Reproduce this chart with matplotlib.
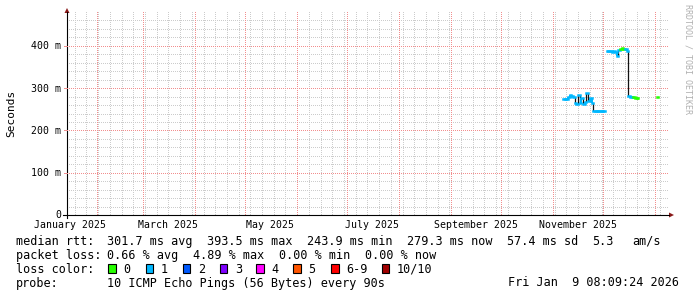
import matplotlib
matplotlib.use("Agg")
import matplotlib.pyplot as plt
import matplotlib.dates as mdates
from matplotlib.patches import Rectangle, Polygon
from matplotlib.transforms import Affine2D
import numpy as np
import pandas as pd

# ---------------- data ----------------
dates = [
    "2025-11-07", "2025-11-08", "2025-11-09", "2025-11-10", "2025-11-11",
    "2025-11-12", "2025-11-13", "2025-11-14", "2025-11-15", "2025-11-16",
    "2025-11-17", "2025-11-18", "2025-11-19", "2025-11-20", "2025-11-21",
    "2025-11-22", "2025-11-23", "2025-11-24", "2025-11-25", "2025-11-26",
    "2025-11-27", "2025-11-28", "2025-11-29", "2025-11-30", "2025-12-01",
    "2025-12-03", "2025-12-04", "2025-12-05", "2025-12-06", "2025-12-07",
    "2025-12-08", "2025-12-09", "2025-12-10", "2025-12-11", "2025-12-12",
    "2025-12-13", "2025-12-14", "2025-12-15", "2025-12-16", "2025-12-17",
    "2025-12-18", "2025-12-19", "2025-12-20", "2025-12-21",
    "2026-01-02",
]
median_ms = [
    274, 274, 275, 278, 284,
    282, 280, 264, 262, 283,
    266, 276, 263, 268, 289,
    270, 276, 266, 245, 246,
    247, 245, 245, 245, 245,
    388, 387, 387, 386, 387,
    386, 377, 390, 393, 394,
    393, 392, 388, 281, 280,
    279, 278, 277, 277,
    279,
]
loss = [
    1, 1, 1, 1, 1,
    1, 1, 1, 1, 1,
    1, 1, 1, 1, 1,
    1, 1, 1, 1, 1,
    1, 1, 1, 1, 1,
    1, 1, 1, 1, 1,
    1, 1, 1, 0, 0,
    0, 1, 1, 1, 1,
    1, 0, 0, 0,
    0,
]
loss_labels = ["0", "1", "2", "3", "4", "5", "6-9", "10/10"]
loss_colors = ["#26ff00", "#00b8ff", "#0059ff", "#7e00ff",
               "#ff00ff", "#ff5500", "#ff0000", "#a10000"]
x_labels = ["January 2025", "March 2025", "May 2025", "July 2025",
            "September 2025", "November 2025"]
x_label_months = ["2025-01-01", "2025-03-01", "2025-05-01", "2025-07-01",
                  "2025-09-01", "2025-11-01"]
y_ticks = [0, 100, 200, 300, 400]
y_labels = ["0", "100 m", "200 m", "300 m", "400 m"]
stats_rtt = ["median rtt:", "301.7 ms avg", "393.5 ms max", "243.9 ms min",
             "279.3 ms now", "57.4 ms sd", "5.3", "am/s"]
stats_loss = ["packet loss:", "0.66 % avg", "4.89 % max", "0.00 % min",
              "0.00 % now"]
probe_text = ["probe:", "10 ICMP Echo Pings (56 Bytes) every 90s"]
stamp = "Fri Jan  9 08:09:24 2026"
t_start = "2025-01-14 08:09:24"
t_end = "2026-01-09 08:09:24"

# ---------------- figure ----------------
W, H = 697, 297
fig = plt.figure(figsize=(W / 100, H / 100), dpi=100, facecolor="white")
L, R, B, T = 67, 669, 215, 12
ax = fig.add_axes([L / W, 1 - B / H, (R - L) / W, (B - T) / H])
ax.set_facecolor("white")
pix = Affine2D().scale(1 / W, -1 / H).translate(0, 1) + fig.transFigure

start = pd.Timestamp(t_start)
end = pd.Timestamp(t_end)
x0, x1n = mdates.date2num(start), mdates.date2num(end)
for s in ax.spines.values():
    s.set_visible(False)
ax.set_xticks([])
ax.set_yticks([])

MONO = "DejaVu Sans Mono"
minor_rgb = (0.80, 0.80, 0.80, 1.0)
major_rgb = (0.95, 0.56, 0.56, 1.0)

# dotted grid rendered pixel-exact as an image layer
PW, PH = R - L, B - T
grid = np.zeros((PH, PW, 4))
def col_of(d):
    return int(round((mdates.date2num(d) - x0) / (x1n - x0) * PW))
def row_of(v):
    return int(round((480 - v) / 480 * PH))
def vline(c, rgba):
    if 0 <= c < PW:
        grid[0::2, c] = rgba
def hline(r, rgba):
    if 0 <= r < PH:
        grid[r, 0::2] = rgba
for d in pd.date_range("2025-01-19", end, freq="7D"):
    vline(col_of(d), minor_rgb)
for y in range(20, 480, 20):
    if y % 100:
        hline(row_of(y), minor_rgb)
for d in pd.date_range("2025-02-01", end, freq="MS"):
    vline(col_of(d), major_rgb)
for y in y_ticks[1:]:
    hline(row_of(y), major_rgb)
ax.imshow(grid, extent=(x0, x1n, 0, 480), aspect="auto",
          interpolation="nearest", zorder=0, origin="upper")
ax.set_xlim(x0, x1n)
ax.set_ylim(0, 480)

# data: step median coloured by loss; big transitions in black
dn = mdates.date2num(pd.to_datetime(dates))
vals = np.array(median_ms, dtype=float)
step = 1.0
for i in range(len(dn) - 1):
    if dn[i + 1] - dn[i] <= 1.5:
        big = abs(vals[i + 1] - vals[i]) > 12
        ax.plot([dn[i] + step, dn[i] + step], [vals[i], vals[i + 1]],
                color="#111111" if big else loss_colors[loss[i + 1]],
                lw=0.9 if big else 1.4, zorder=3 if big else 4,
                solid_capstyle="butt")
for i in range(len(dn)):
    ax.plot([dn[i], dn[i] + step], [vals[i], vals[i]],
            color=loss_colors[loss[i]], lw=1.8, zorder=5,
            solid_capstyle="projecting")

# axes lines and arrows
axis_col = "#000000"
fig.add_artist(plt.Line2D([L, L], [B + 3, T], transform=pix, color=axis_col, lw=0.8))
fig.add_artist(plt.Line2D([L - 4, R], [B, B], transform=pix, color=axis_col, lw=0.8))
fig.add_artist(Polygon([[L - 2.5, T + 1], [L + 2.5, T + 1], [L, T - 4]],
                       closed=True, transform=pix, color="#8b1a1a", lw=0))
fig.add_artist(Polygon([[R, B - 2.5], [R, B + 2.5], [R + 5, B]],
                       closed=True, transform=pix, color="#8b1a1a", lw=0))
for y in y_ticks[1:]:
    yp = B - y * (B - T) / 480
    fig.add_artist(plt.Line2D([L - 3, L], [yp, yp], transform=pix,
                              color="#f09090", lw=0.72))

# tick labels
for y, lab in zip(y_ticks, y_labels):
    yp = B - y * (B - T) / 480
    fig.text(61 / W, 1 - (yp + 3.5) / H, lab, ha="right", va="baseline",
             family=MONO, fontsize=7.1, color="#000000")
for m, lab in zip(x_label_months, x_labels):
    xc = mdates.date2num(pd.Timestamp(m) + pd.Timedelta(days=15))
    ax.text(xc, -(228.3 - B) / (B - T), lab, transform=ax.get_xaxis_transform(),
            ha="center", va="baseline", family=MONO, fontsize=7.1,
            color="#000000")

fig.text(11 / W, 1 - 113.5 / H, "Seconds", rotation=90, ha="center",
         va="center", family=MONO, fontsize=8, color="#000000")
fig.text(688 / W, 1 - 4 / H, "RRDTOOL / TOBI OETIKER", rotation=270,
         ha="center", va="top", family=MONO, fontsize=6, color="#b0b0b0")

# legend
fs = 8.5
line_y = [245, 259, 272.7, 286.5]
x1 = [16, 107.3, 207.3, 307.3, 407.3, 507, 592, 632]
for x, s in zip(x1, stats_rtt):
    fig.text(x / W, 1 - line_y[0] / H, s, ha="left", va="baseline",
             family=MONO, fontsize=fs, color="#000000")
x2 = [16, 107.3, 193.3, 279.3, 365]
for x, s in zip(x2, stats_loss):
    fig.text(x / W, 1 - line_y[1] / H, s, ha="left", va="baseline",
             family=MONO, fontsize=fs, color="#000000")
fig.text(16 / W, 1 - line_y[2] / H, "loss color:", ha="left", va="baseline",
         family=MONO, fontsize=fs, color="#000000")
box_x = [108.3, 145.7, 182.7, 219.7, 256, 293.3, 331, 381.7]
for bx, lab, c in zip(box_x, loss_labels, loss_colors):
    fig.add_artist(Rectangle((bx, 264.3), 7.7, 8.2, transform=pix,
                             facecolor=c, edgecolor="#000000", lw=0.8))
    fig.text((bx + 15) / W, 1 - line_y[2] / H, lab, ha="left",
             va="baseline", family=MONO, fontsize=fs, color="#000000")
fig.text(16 / W, 1 - line_y[3] / H, probe_text[0], ha="left", va="baseline",
         family=MONO, fontsize=fs, color="#000000")
fig.text(107.3 / W, 1 - line_y[3] / H, probe_text[1], ha="left",
         va="baseline", family=MONO, fontsize=fs, color="#000000")
fig.text(679 / W, 1 - line_y[3] / H, stamp, ha="right", va="baseline",
         family=MONO, fontsize=fs, color="#000000")

fig.savefig("out.png", dpi=100, facecolor="white")
